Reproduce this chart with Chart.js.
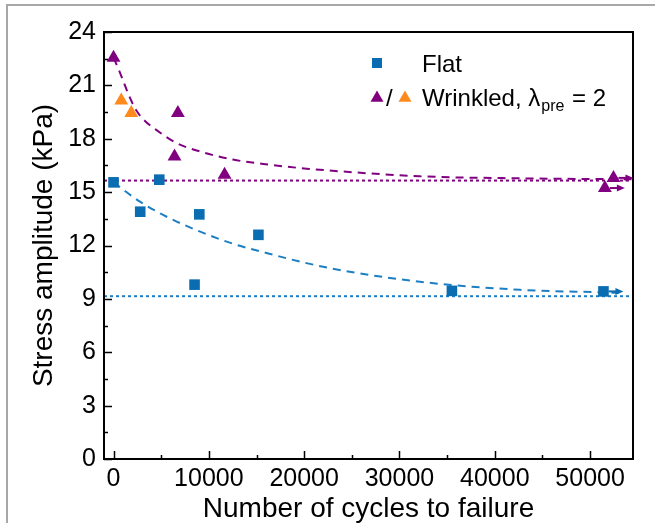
<!DOCTYPE html>
<html>
<head>
<meta charset="utf-8">
<script src="https://cdn.jsdelivr.net/npm/chart.js@4.4.1/dist/chart.umd.min.js"></script>
<style>
  html, body { margin: 0; padding: 0; background: #fff; }
  #wrap { position: relative; width: 655px; height: 523px; overflow: hidden; }
  #frame { position: absolute; left: 6px; top: 4px; width: 700px; height: 600px;
           border-left: 2px solid #a8a8a8; border-top: 2px solid #a8a8a8; }
  #chart { position: absolute; left: 0; top: 0; }
</style>
</head>
<body>
<div id="wrap">
  <div id="frame"></div>
  <canvas id="chart" width="655" height="523"></canvas>
</div>
<script>
// measured points
const flatCycles = [0, 2800, 4800, 8500, 9000, 15200, 35500, 51400];
const flatStress = [15.55, 13.9, 15.7, 9.8, 13.75, 12.6, 9.45, 9.42];
const flatRunOut = [false, false, false, false, false, false, false, true];

const wrinkledCycles = [0, 6400, 6750, 11650, 51550, 52450];
const wrinkledStress = [22.55, 17.0, 19.45, 15.98, 15.23, 15.8];
const wrinkledRunOut = [false, false, false, false, true, true];

const wrinkledExtraCycles = [810, 1860];
const wrinkledExtraStress = [20.15, 19.45];

// fitted curves
const flatFitCycles = [0, 2730, 5530, 9030, 12530, 16040, 20240, 24610, 32830, 42650, 51750, 53000];
const flatFitStress = [15.55, 14.48, 13.63, 12.79, 12.1, 11.58, 11.01, 10.54, 9.92, 9.51, 9.36, 9.34];
const wrinkledFitCycles = [0, 500, 980, 1600, 2380, 3300, 4480, 6580, 9030, 12530, 16390, 20240, 23740, 32100, 42000, 54500];
const wrinkledFitStress = [22.55, 21.95, 21.3, 20.45, 19.6, 19.0, 18.5, 17.77, 17.29, 16.83, 16.54, 16.32, 16.17, 15.89, 15.78, 15.72];

// fatigue limits (dotted lines)
const flatLimit = 9.15;
const wrinkledLimit = 15.65;

// axes
const xMin = -1000, xMax = 54500;
const yMin = 0, yMax = 24;
const xTickValues = [0, 5000, 10000, 15000, 20000, 25000, 30000, 35000, 40000, 45000, 50000];
const xLabelValues = [0, 10000, 20000, 30000, 40000, 50000];
const yTickValues = [0, 1.5, 3, 4.5, 6, 7.5, 9, 10.5, 12, 13.5, 15, 16.5, 18, 19.5, 21, 22.5, 24];
const yLabelValues = [0, 3, 6, 9, 12, 15, 18, 21, 24];

const blue = "#0a6db2";
const blueLine = "#1c7fc4";
const purple = "#800080";
const orange = "#ff8a1c";
const FONT = '"Liberation Sans", Arial, sans-serif';

function pts(xs, ys) {
    return xs.map((x, i) => ({ x: x, y: ys[i] }));
}

const frameAndTicks = {
    id: "frameAndTicks",
    afterDatasetsDraw(chart) {
        const { ctx, chartArea: a, scales: { x, y } } = chart;
        ctx.save();
        ctx.strokeStyle = "#000";
        ctx.lineWidth = 1.5;
        ctx.beginPath();
        xTickValues.forEach(v => {
            const px = Math.round(x.getPixelForValue(v)) + 0.5;
            const len = xLabelValues.includes(v) ? 8 : 4;
            ctx.moveTo(px, a.bottom);
            ctx.lineTo(px, a.bottom - len);
        });
        yTickValues.forEach(v => {
            const py = Math.round(y.getPixelForValue(v)) + 0.5;
            const len = yLabelValues.includes(v) ? 8 : 4;
            ctx.moveTo(a.left, py);
            ctx.lineTo(a.left + len, py);
        });
        ctx.stroke();
        ctx.lineWidth = 2;
        ctx.strokeRect(a.left, a.top, a.right - a.left, a.bottom - a.top);
        ctx.restore();
    }
};

function arrow(ctx, x0, y0, color) {
    ctx.strokeStyle = color;
    ctx.fillStyle = color;
    ctx.lineWidth = 2;
    ctx.beginPath();
    ctx.moveTo(x0 + 5, y0);
    ctx.lineTo(x0 + 14, y0);
    ctx.stroke();
    ctx.beginPath();
    ctx.moveTo(x0 + 20, y0);
    ctx.lineTo(x0 + 12, y0 - 3.5);
    ctx.lineTo(x0 + 12, y0 + 3.5);
    ctx.closePath();
    ctx.fill();
}

const runOutArrows = {
    id: "runOutArrows",
    afterDatasetsDraw(chart) {
        const { ctx, scales: { x, y } } = chart;
        ctx.save();
        flatCycles.forEach((c, i) => {
            if (flatRunOut[i]) arrow(ctx, x.getPixelForValue(c), y.getPixelForValue(flatStress[i]), blue);
        });
        wrinkledCycles.forEach((c, i) => {
            if (wrinkledRunOut[i]) arrow(ctx, x.getPixelForValue(c), y.getPixelForValue(wrinkledStress[i]), purple);
        });
        ctx.restore();
    }
};

function tri(ctx, cx, cy, r, color) {
    ctx.fillStyle = color;
    ctx.beginPath();
    ctx.moveTo(cx, cy - r);
    ctx.lineTo(cx + r * 0.866, cy + r * 0.5);
    ctx.lineTo(cx - r * 0.866, cy + r * 0.5);
    ctx.closePath();
    ctx.fill();
}

const legendBox = {
    id: "legendBox",
    afterDraw(chart) {
        const ctx = chart.ctx;
        ctx.save();
        ctx.fillStyle = blue;
        ctx.fillRect(372, 58, 10, 10);
        ctx.fillStyle = "#000";
        ctx.font = "24px " + FONT;
        ctx.textBaseline = "alphabetic";
        ctx.fillText("Flat", 422, 72);

        tri(ctx, 377, 98, 7.5, purple);
        ctx.fillStyle = "#000";
        ctx.fillText("/", 386, 106);
        tri(ctx, 405, 98, 7.5, orange);

        ctx.fillStyle = "#000";
        const main = "Wrinkled, \u03bb";
        ctx.fillText(main, 422, 106);
        let cx = 422 + ctx.measureText(main).width + 1;
        ctx.font = "16px " + FONT;
        ctx.fillText("pre", cx, 111);
        cx += ctx.measureText("pre").width + 1;
        ctx.font = "24px " + FONT;
        ctx.fillText(" = 2", cx, 106);
        ctx.restore();
    }
};

const ctx = document.getElementById("chart").getContext("2d");

new Chart(ctx, {
    type: "scatter",
    data: {
        datasets: [
            {
                label: "Flat",
                data: pts(flatCycles, flatStress),
                pointStyle: "rect",
                pointRadius: 7.5,
                pointHoverRadius: 7.5,
                backgroundColor: blue,
                borderWidth: 0
            },
            {
                label: "Wrinkled",
                data: pts(wrinkledCycles, wrinkledStress),
                pointStyle: "triangle",
                pointRadius: 8,
                backgroundColor: purple,
                borderWidth: 0
            },
            {
                label: "Wrinkled (orange)",
                data: pts(wrinkledExtraCycles, wrinkledExtraStress),
                pointStyle: "triangle",
                pointRadius: 8,
                backgroundColor: orange,
                borderWidth: 0
            },
            {
                label: "Flat fit",
                data: pts(flatFitCycles, flatFitStress),
                showLine: true,
                pointRadius: 0,
                borderColor: blueLine,
                borderWidth: 2,
                borderDash: [8, 6],
                cubicInterpolationMode: "monotone"
            },
            {
                label: "Wrinkled fit",
                data: pts(wrinkledFitCycles, wrinkledFitStress),
                showLine: true,
                pointRadius: 0,
                borderColor: purple,
                borderWidth: 2,
                borderDash: [8, 6],
                cubicInterpolationMode: "monotone"
            },
            {
                label: "Flat limit",
                data: [{ x: xMin, y: flatLimit }, { x: xMax, y: flatLimit }],
                showLine: true,
                pointRadius: 0,
                borderColor: blueLine,
                borderWidth: 2,
                borderDash: [3, 3]
            },
            {
                label: "Wrinkled limit",
                data: [{ x: xMin, y: wrinkledLimit }, { x: xMax, y: wrinkledLimit }],
                showLine: true,
                pointRadius: 0,
                borderColor: purple,
                borderWidth: 2,
                borderDash: [3, 3]
            }
        ]
    },
    options: {
        responsive: false,
        animation: false,
        layout: { padding: { top: 32, right: 22, left: 0, bottom: 0 } },
        plugins: {
            legend: { display: false },
            tooltip: { enabled: false }
        },
        scales: {
            x: {
                type: "linear",
                min: xMin,
                max: xMax,
                afterBuildTicks: s => { s.ticks = xTickValues.map(v => ({ value: v })); },
                afterFit: s => { s.height = 64; },
                grid: { display: false, drawTicks: false },
                border: { display: false },
                ticks: {
                    autoSkip: false,
                    maxRotation: 0,
                    padding: 5,
                    color: "#000",
                    font: { family: FONT, size: 25 },
                    callback: v => xLabelValues.includes(v) ? String(v) : ""
                },
                title: {
                    display: true,
                    text: "Number of cycles to failure",
                    color: "#000",
                    font: { family: FONT, size: 28 },
                    padding: { top: 0, bottom: -3 }
                }
            },
            y: {
                type: "linear",
                min: yMin,
                max: yMax,
                afterBuildTicks: s => { s.ticks = yTickValues.map(v => ({ value: v })); },
                afterFit: s => { s.width = 104; },
                grid: { display: false, drawTicks: false },
                border: { display: false },
                ticks: {
                    autoSkip: false,
                    padding: 8,
                    color: "#000",
                    font: { family: FONT, size: 25 },
                    callback: v => yLabelValues.includes(v) ? String(v) : ""
                },
                title: {
                    display: true,
                    text: "Stress amplitude (kPa)",
                    color: "#000",
                    font: { family: FONT, size: 28 },
                    padding: { top: 27, bottom: 0 }
                }
            }
        }
    },
    plugins: [frameAndTicks, runOutArrows, legendBox]
});
</script>
</body>
</html>
